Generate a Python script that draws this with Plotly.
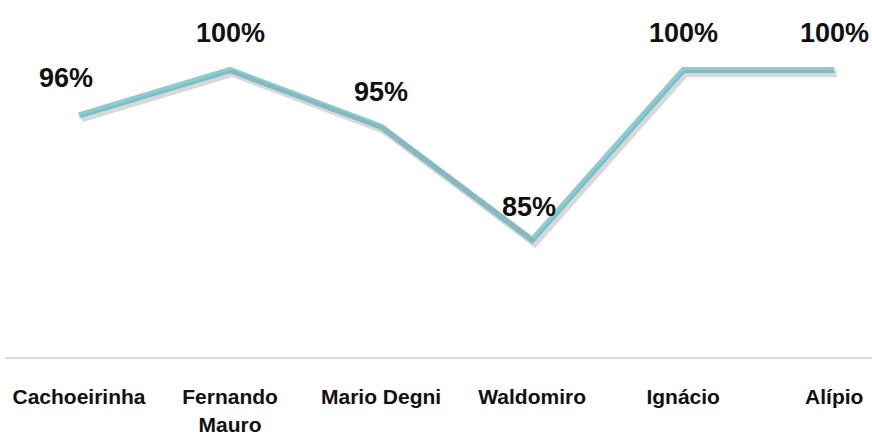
import plotly.graph_objects as go

# Percentual por unidade
unidades = ["Cachoeirinha", "Fernando<br>Mauro", "Mario Degni", "Waldomiro", "Ignácio", "Alípio"]
percentuais = [96, 100, 95, 85, 100, 100]
rotulos = ["96%", "100%", "95%", "85%", "100%", "100%"]

FONT = "Liberation Sans Narrow, Arial Narrow, Liberation Sans, Arial, sans-serif"
LINE_COLOR = "rgb(128,208,214)"

y_range = [74.67, 102.65]
x_range = [-0.49, 5.25]
px_per_unit_y = 317 / (y_range[1] - y_range[0])
px_per_unit_x = 867 / (x_range[1] - x_range[0])
shadow_dx, shadow_dy = 2.5, 3.5

fig = go.Figure()

# soft shadow under the line, drawn on an overlaid, slightly shifted axis pair
fig.add_trace(go.Scatter(
    x=unidades, y=percentuais, mode="lines",
    line=dict(color="rgba(150,140,145,0.35)", width=7),
    xaxis="x2", yaxis="y2", hoverinfo="skip", showlegend=False,
))
fig.add_trace(go.Scatter(
    x=unidades, y=percentuais, mode="lines",
    line=dict(color=LINE_COLOR, width=6),
    showlegend=False,
))

# value labels above each point
offsets = [(-13, 37), (0, 37), (0, 35), (-3, 33), (0, 37), (0, 37)]
for (u, v, t), (dx, dy) in zip(zip(unidades, percentuais, rotulos), offsets):
    fig.add_annotation(
        x=u, y=v, text=f"<b>{t}</b>", showarrow=False,
        xshift=dx, yshift=dy,
        font=dict(family=FONT, size=27, color="#111111"),
    )

fig.update_layout(
    width=872, height=440,
    margin=dict(l=5, r=0, t=40, b=83),
    paper_bgcolor="white", plot_bgcolor="white",
    xaxis=dict(
        type="category", range=x_range, showgrid=False, zeroline=False,
        showline=True, linecolor="#d9d9d9", linewidth=2,
        ticks="", ticklabelstandoff=20,
        tickfont=dict(family=FONT, size=21, color="#111111"),
        tickvals=unidades, ticktext=[f"<b>{u}</b>" for u in unidades],
    ),
    yaxis=dict(range=y_range, visible=False, showgrid=False),
    xaxis2=dict(
        type="category", overlaying="x",
        range=[x_range[0] - shadow_dx / px_per_unit_x, x_range[1] - shadow_dx / px_per_unit_x],
        visible=False,
    ),
    yaxis2=dict(
        overlaying="y",
        range=[y_range[0] + shadow_dy / px_per_unit_y, y_range[1] + shadow_dy / px_per_unit_y],
        visible=False,
    ),
)

fig.write_html("out.html")
